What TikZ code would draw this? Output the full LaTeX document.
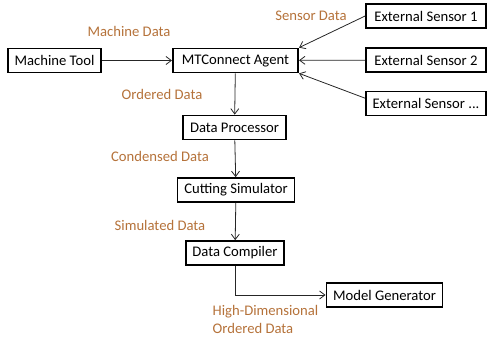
\documentclass[tikz,border=0pt]{standalone}
\usepackage{fontspec}
\setmainfont{Carlito}
\usetikzlibrary{arrows.meta}

\definecolor{labelbrown}{RGB}{181,114,58}

\begin{document}
\begin{tikzpicture}[
        x=0.75pt, y=-0.75pt,
        >={Straight Barb[length=4pt,width=6pt]},
        box/.style={
            rectangle,
            draw=black,
            line width=1.3pt,
            minimum height=18pt,
            inner xsep=5pt,
            fill=white,
            font=\fontsize{11}{13}\selectfont
        },
        sensor/.style={
            box,
            minimum width=90pt
        },
        flow/.style={
            ->,
            line width=0.6pt,
            draw=black!85
        },
        data/.style={
            text=labelbrown,
            align=left,
            font=\fontsize{11}{13}\selectfont
        }
    ]

    \useasboundingbox (0,0) rectangle (490,340);

    \node[box]    (tool)   at (54.5, 60.5)  {Machine Tool};
    \node[box, minimum width=94pt] (agent) at (235.5, 60.5) {MTConnect Agent};
    \node[sensor] (es_one)   at (426, 16)   {External Sensor 1};
    \node[sensor] (es_two)   at (426, 60)   {External Sensor 2};
    \node[sensor] (es_more)  at (426, 103.5) {External Sensor ...};
    \node[box]    (proc)   at (234.5, 127.5) {Data Processor};
    \node[box]    (sim)    at (236, 190)   {Cutting Simulator};
    \node[box]    (comp)   at (235, 253)   {Data Compiler};
    \node[box]    (model)  at (384.5, 295) {Model Generator};

    \node[data] (l_machine)   at (129, 31)  {Machine Data};
    \node[data] (l_sensor)    at (311, 16)  {Sensor Data};
    \node[data] (l_ordered)   at (162, 94)  {Ordered Data};
    \node[data] (l_condensed) at (160, 156) {Condensed Data};
    \node[data] (l_simulated) at (160, 225) {Simulated Data};
    \node[data, anchor=west] (l_highdim) at (208, 319.5) {High-Dimensional\\Ordered Data};

    \draw[flow] (tool) -- (agent);
    \draw[flow] (es_one.west) -- (agent.north east);
    \draw[flow] (es_two) -- (agent);
    \draw[flow] ([yshift=4pt]es_more.west) -- (agent.south east);
    \draw[flow] (agent) -- (proc);
    \draw[flow] (proc) -- (sim);
    \draw[flow] (sim) -- (comp);
    \draw[flow] (comp.south) |- (model.west);

\end{tikzpicture}
\end{document}
